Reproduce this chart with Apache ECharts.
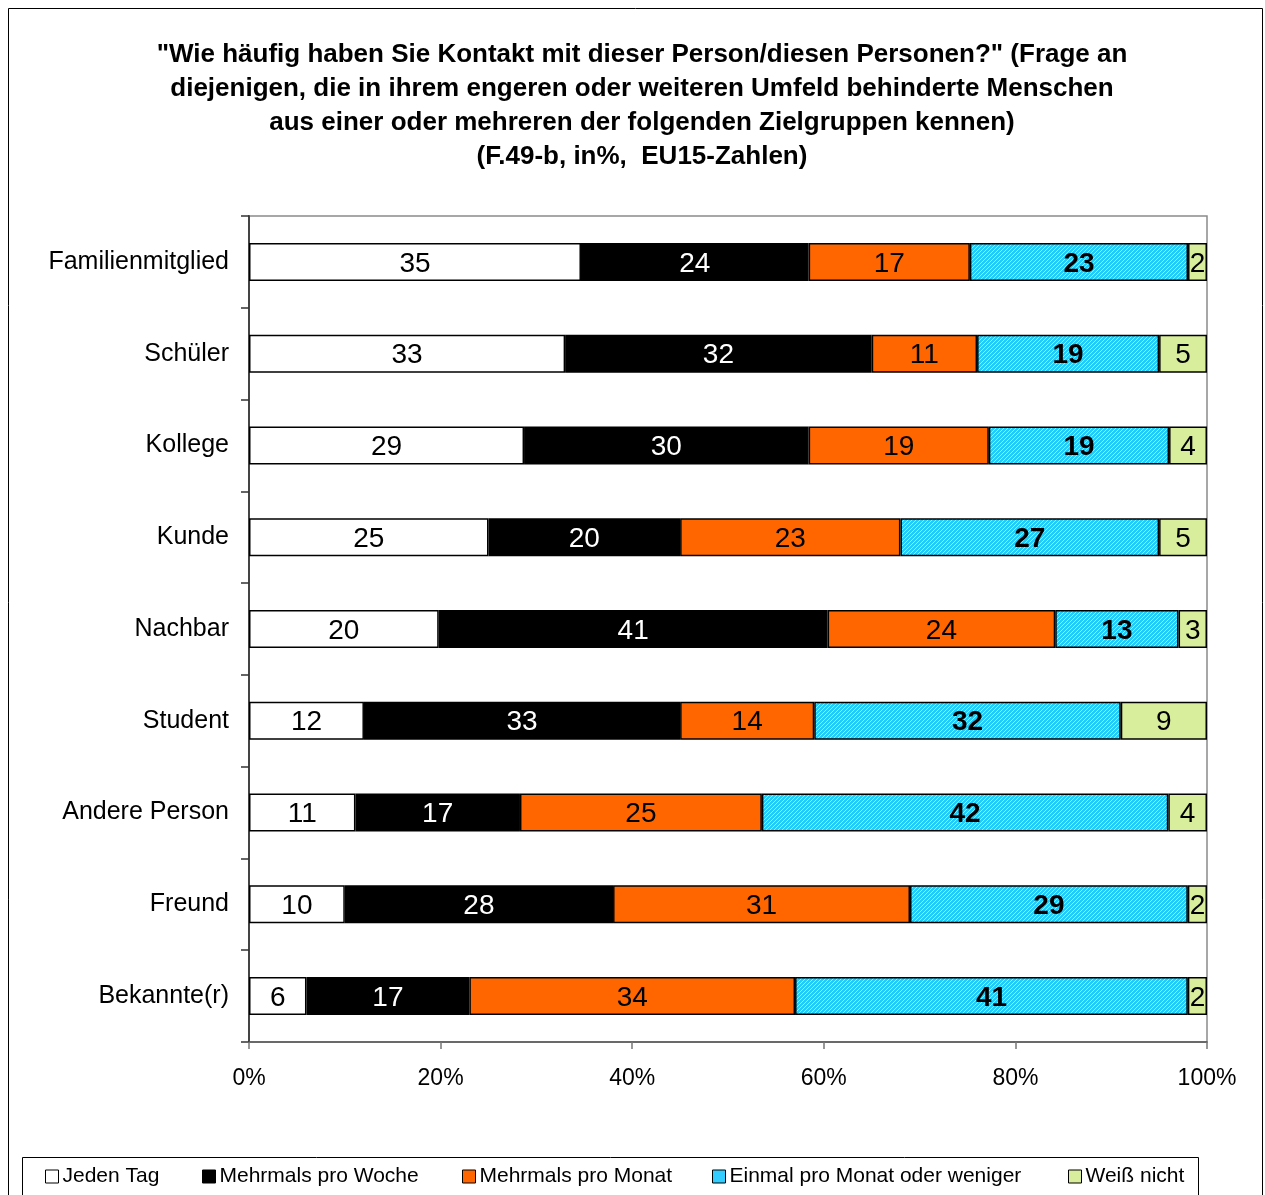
<!DOCTYPE html>
<html>
<head>
<meta charset="utf-8">
<script src="https://cdn.jsdelivr.net/npm/echarts@6/dist/echarts.min.js"></script>
<style>
  html, body { margin: 0; padding: 0; background: #fff; }
  #chart { width: 1265px; height: 1195px; }
</style>
</head>
<body>
<div id="chart"></div>
<script>
// Groups of people, top to bottom
const categories = ['Familienmitglied', 'Schüler', 'Kollege', 'Kunde', 'Nachbar', 'Student', 'Andere Person', 'Freund', 'Bekannte(r)'];
const seriesNames = ['Jeden Tag', 'Mehrmals pro Woche', 'Mehrmals pro Monat', 'Einmal pro Monat oder weniger', 'Weiß nicht'];

// Answers in percent per group
const jedenTag        = [35, 33, 29, 25, 20, 12, 11, 10, 6];
const mehrmalsWoche   = [24, 32, 30, 20, 41, 33, 17, 28, 17];
const mehrmalsMonat   = [17, 11, 19, 23, 24, 14, 25, 31, 34];
const einmalMonat     = [23, 19, 19, 27, 13, 32, 42, 29, 41];
const weissNicht      = [2, 5, 4, 5, 3, 9, 4, 2, 2];

const xTicks = [0, 20, 40, 60, 80, 100];

const allValues = [jedenTag, mehrmalsWoche, mehrmalsMonat, einmalMonat, weissNicht];
const totals = categories.map((_, i) => allValues.reduce((s, arr) => s + arr[i], 0));

// Hatched cyan fill
function hatchPattern() {
  const c = document.createElement('canvas');
  c.width = 4; c.height = 4;
  const g = c.getContext('2d');
  g.fillStyle = '#22CCF8';
  g.fillRect(0, 0, 4, 4);
  g.fillStyle = '#9BE8FF';
  for (let k = 0; k < 4; k++) {
    g.fillRect(k, 3 - k, 1, 1);
  }
  return c;
}
const hatch = { image: hatchPattern(), repeat: 'repeat' };

const fills = ['#FFFFFF', '#000000', '#FF6600', hatch, '#D8EE9C'];
const legendIconFills = ['#FFFFFF', '#000000', '#FF6600', '#33CCFF', '#D8EE9C'];
const labelColors = ['#000', '#fff', '#000', '#000', '#000'];
const labelWeights = ['normal', 'normal', 'normal', 'bold', 'normal'];

const FONT = '"Liberation Sans", Arial, sans-serif';

const series = allValues.map((vals, s) => ({
  name: seriesNames[s],
  type: 'bar',
  stack: 'total',
  barWidth: 38,
  data: vals.map((v, i) => v / totals[i] * 100),
  itemStyle: { color: fills[s], borderColor: '#000', borderWidth: 1.5 },
  label: {
    show: true,
    position: 'inside',
    offset: [0, 2],
    fontFamily: FONT,
    fontSize: 28,
    fontWeight: labelWeights[s],
    color: labelColors[s],
    formatter: p => String(vals[p.dataIndex])
  },
  emphasis: { disabled: true },
  animation: false
}));

// One legend per entry so each sits at its own spot in the box
const legendLeft = [40, 197, 457, 707, 1063];
const legends = seriesNames.map((n, s) => ({
  data: [{ name: n, itemStyle: { color: legendIconFills[s], borderColor: '#000', borderWidth: 1 } }],
  left: legendLeft[s],
  top: 1161,
  icon: 'rect',
  itemWidth: 13,
  itemHeight: 13,
  itemGap: 0,
  selectedMode: false,
  textStyle: { fontFamily: FONT, fontSize: 21, color: '#000', padding: [0, 0, 0, -1] }
}));

const chart = echarts.init(document.getElementById('chart'), null, { renderer: 'canvas' });
chart.setOption({
  animation: false,
  backgroundColor: '#fff',
  title: {
    text: '"Wie häufig haben Sie Kontakt mit dieser Person/diesen Personen?" (Frage an\ndiejenigen, die in ihrem engeren oder weiteren Umfeld behinderte Menschen\naus einer oder mehreren der folgenden Zielgruppen kennen)\n(F.49-b, in%,  EU15-Zahlen)',
    left: 637,
    top: 33,
    textAlign: 'center',
    textStyle: { fontFamily: FONT, fontSize: 26, fontWeight: 'bold', color: '#000', lineHeight: 34 }
  },
  legend: legends,
  grid: {
    left: 249, right: 58, top: 216, bottom: 153,
    show: true, borderColor: '#8a8a8a', borderWidth: 1.5, backgroundColor: 'transparent'
  },
  xAxis: {
    type: 'value',
    min: 0, max: 100, interval: 20,
    axisLine: { show: true, lineStyle: { color: '#555', width: 1.5 } },
    axisTick: { show: true, inside: false, length: 7, lineStyle: { color: '#777', width: 1.5 } },
    splitLine: { show: false },
    axisLabel: {
      fontFamily: FONT, fontSize: 23, color: '#000', margin: 25,
      formatter: v => xTicks.includes(v) ? v + '%' : ''
    }
  },
  yAxis: {
    type: 'category',
    data: categories,
    inverse: true,
    axisLine: { show: true, lineStyle: { color: '#444', width: 2 } },
    axisTick: { show: true, inside: false, length: 8, alignWithLabel: false, lineStyle: { color: '#333', width: 1.5 } },
    axisLabel: { fontFamily: FONT, fontSize: 25, color: '#000', margin: 20, padding: [4, 0, 0, 0] }
  },
  graphic: [
    { type: 'rect', shape: { x: 8.5, y: 8.5, width: 1254, height: 1200 }, style: { fill: 'none', stroke: '#000', lineWidth: 1 }, silent: true, z: -1 },
    { type: 'rect', shape: { x: 22.5, y: 1157.5, width: 1176, height: 60 }, style: { fill: 'none', stroke: '#000', lineWidth: 1 }, silent: true, z: -1 }
  ],
  series: series
});
</script>
</body>
</html>
